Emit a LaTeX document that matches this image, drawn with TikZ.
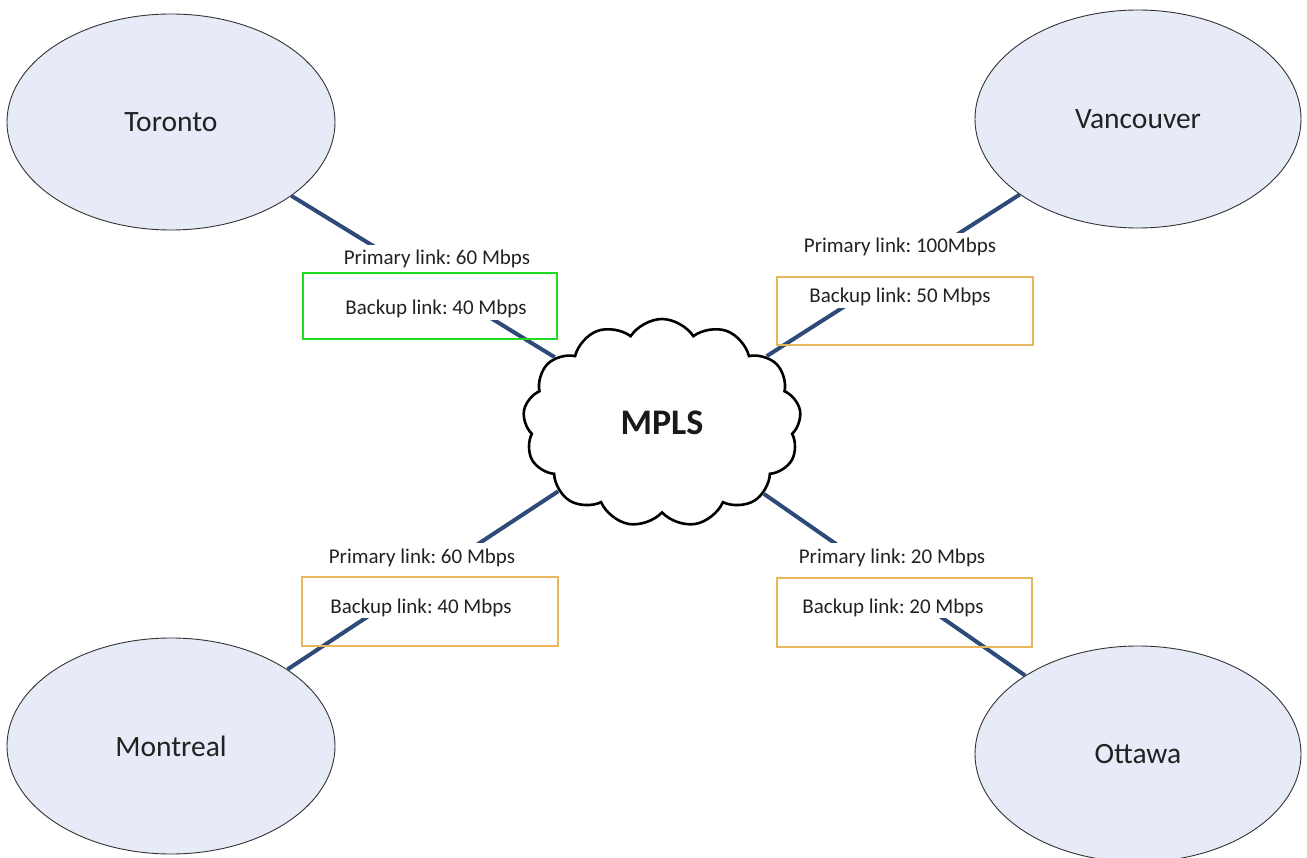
\documentclass[tikz,border=0pt]{standalone}
\usepackage{fontspec}
\setmainfont{Carlito}
\usetikzlibrary{shapes.geometric,shapes.symbols}
\definecolor{cityfill}{RGB}{231,235,247}
\definecolor{linkblue}{RGB}{46,74,120}
\definecolor{boxorange}{RGB}{232,182,92}
\definecolor{boxgreen}{RGB}{30,220,30}
\definecolor{txt}{RGB}{34,34,34}
\frenchspacing
\tikzset{
  city/.style={ellipse, draw=black!80, line width=0.9pt, fill=cityfill,
    minimum width=328pt, minimum height=216pt, inner sep=0pt,
    font=\fontsize{29.5}{34}\selectfont, text=txt},
  link/.style={draw=linkblue, line width=4pt},
  lbl/.style={fill=white, inner sep=2pt, anchor=base,
    font=\fontsize{21}{25}\selectfont, text=txt},
  linkbox/.style={draw=boxorange, line width=1.4pt, inner sep=0pt},
  mplscloud/.style={cloud, cloud puffs=13, cloud puff arc=115, cloud ignores aspect,
    minimum width=278pt, minimum height=208pt, draw=black, line width=2.6pt,
    fill=white, inner sep=0pt, font=\fontsize{36}{40}\selectfont\bfseries, text=black!90},
}
\begin{document}
\begin{tikzpicture}[x=1pt,y=-1pt]
\useasboundingbox (0,0) rectangle (1307,858);
\clip (0,0) rectangle (1307,858);
% cities
\node[city] (tor) at (171,122) {Toronto};
\node[city, minimum width=326pt, minimum height=218pt] (van) at (1138,119) {Vancouver};
\node[city] (mon) at (171,746) {Montreal};
\node[city, minimum width=326pt] (ott) at (1138,754) {Ottawa};
% cloud
\node[mplscloud] (mpls) at (662,423) {MPLS};
% connectors
\draw[link] (tor) -- (mpls);
\draw[link] (van) -- (mpls);
\draw[link] (mon) -- (mpls);
\draw[link] (ott) -- (mpls);
% labels
\node[lbl] (tp) at (437,265) {Primary link: 60 Mbps\rule[-33pt]{0pt}{51pt}};
\node[lbl] (tb) at (436,315) {Backup link: 40 Mbps};
\node[lbl] (vp) at (900,253) {Primary link: 100Mbps\rule[-33pt]{0pt}{51pt}};
\node[lbl] (vb) at (900,303) {Backup link: 50 Mbps};
\node[lbl] (mp) at (422,563) {Primary link: 60 Mbps\rule[-33pt]{0pt}{51pt}};
\node[lbl] (mb) at (421,613) {Backup link: 40 Mbps};
\node[lbl] (op) at (892,563) {Primary link: 20 Mbps\rule[-33pt]{0pt}{51pt}};
\node[lbl] (ob) at (893,613) {Backup link: 20 Mbps};
% boxes
\node[linkbox, draw=boxgreen, line width=2.6pt, minimum width=254pt, minimum height=66pt] (tbox) at (430,306) {};
\node[linkbox, minimum width=256pt, minimum height=68pt] (vbox) at (905,311) {};
\node[linkbox, minimum width=256pt, minimum height=69pt] (mbox) at (430,611.5) {};
\node[linkbox, minimum width=255pt, minimum height=69pt] (obox) at (904.5,612.5) {};
\end{tikzpicture}
\end{document}
